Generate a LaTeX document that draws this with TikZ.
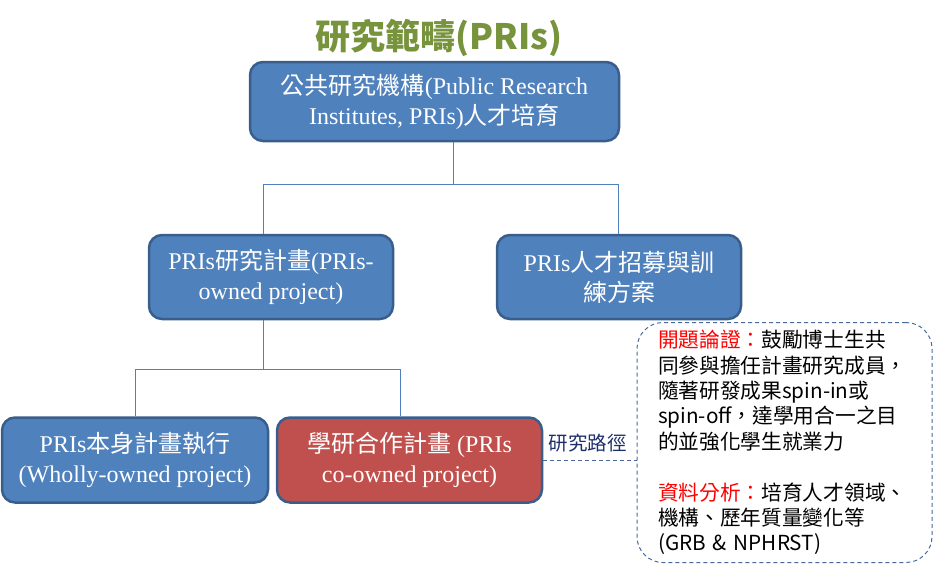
\documentclass[tikz,border=0pt]{standalone}
\usepackage{fontspec}
\setmainfont{Liberation Serif}
\newfontfamily\cjk{Noto Sans CJK TC}
\newcommand\C[1]{{\cjk #1}}
\definecolor{boxblue}{HTML}{4F81BD}
\definecolor{boxedge}{HTML}{3A5E8C}
\definecolor{boxred}{HTML}{C0504D}
\definecolor{linkblue}{HTML}{4F81BD}
\definecolor{dashblue}{HTML}{4A6B9A}
\definecolor{titlegreen}{HTML}{77933C}
\definecolor{labnavy}{HTML}{1F2F6B}
\tikzset{
  orgbox/.style={draw=boxedge, fill=boxblue, line width=2.5pt, rounded corners=13pt,
    text=white, align=center, inner sep=0pt, font=\fontsize{24}{30}\selectfont},
  redbox/.style={orgbox, fill=boxred},
  link/.style={draw=linkblue, line width=1pt},
  notebox/.style={draw=dashblue, dashed, dash pattern=on 4pt off 3pt, line width=1pt,
    rounded corners=26pt, align=left, inner xsep=21pt, inner ysep=0pt,
    font=\cjk\fontsize{20.7}{25.4}\selectfont, text=black}
}
\begin{document}
\begin{tikzpicture}[x=1pt,y=-1pt]
\useasboundingbox (0,0) rectangle (933,571);
\node[text=titlegreen, font=\cjk\bfseries\fontsize{35}{40}\selectfont] (title) at (439,38) {研究範疇(PRIs)};
\node[orgbox, minimum width=369pt, minimum height=79pt] (top) at (434.5,101.5)
  {\C{公共研究機構}(Public Research\\Institutes, PRIs)\C{人才培育}};
\node[orgbox, minimum width=244pt, minimum height=84pt] (midL) at (271,277)
  {PRIs\C{研究計畫}(PRIs-\\owned project)};
\node[orgbox, minimum width=244pt, minimum height=84pt] (midR) at (619,277)
  {PRIs\C{人才招募與訓}\\\C{練方案}};
\node[orgbox, minimum width=266pt, minimum height=85pt] (botL) at (135,460)
  {PRIs\C{本身計畫執行}\\(Wholly-owned project)};
\node[redbox, minimum width=265pt, minimum height=85pt] (botR) at (409.5,460)
  {\C{學研合作計畫} (PRIs\\co-owned project)};
\node[notebox, minimum width=295pt, minimum height=240pt, text width=253pt] (note) at (784.5,442.5)
  {{\color{red}開題論證：}鼓勵博士生共\\
   同參與擔任計畫研究成員，\\
   隨著研發成果spin-in或\\
   spin-off，達學用合一之目\\
   的並強化學生就業力\\[25.4pt]
   {\color{red}資料分析：}培育人才領域、\\
   機構、歷年質量變化等\\
   (GRB \& NPHRST)};
\node[text=labnavy, font=\cjk\fontsize{19.5}{22}\selectfont, inner sep=0pt] (lab) at (587.5,443) {研究路徑};
% connectors
\coordinate (j0) at (453,184);
\coordinate (c1) at (263,184);
\coordinate (c2) at (618,184);
\coordinate (d0) at (263,369);
\coordinate (d1) at (135.5,369);
\coordinate (d2) at (400,369);
\draw[link] (top.south -| j0) -- (j0);
\draw[link] (c1 |- midL.north) -- (c1) -- (c2) -- (c2 |- midR.north);
\draw[link] (d0 |- midL.south) -- (d0);
\draw[link] (d1 |- botL.north) -- (d1) -- (d2) -- (d2 |- botR.north);
\draw[draw=dashblue, dashed, dash pattern=on 4pt off 3pt, line width=1pt] (botR.east) -- (note.west |- botR.east);
\end{tikzpicture}
\end{document}
